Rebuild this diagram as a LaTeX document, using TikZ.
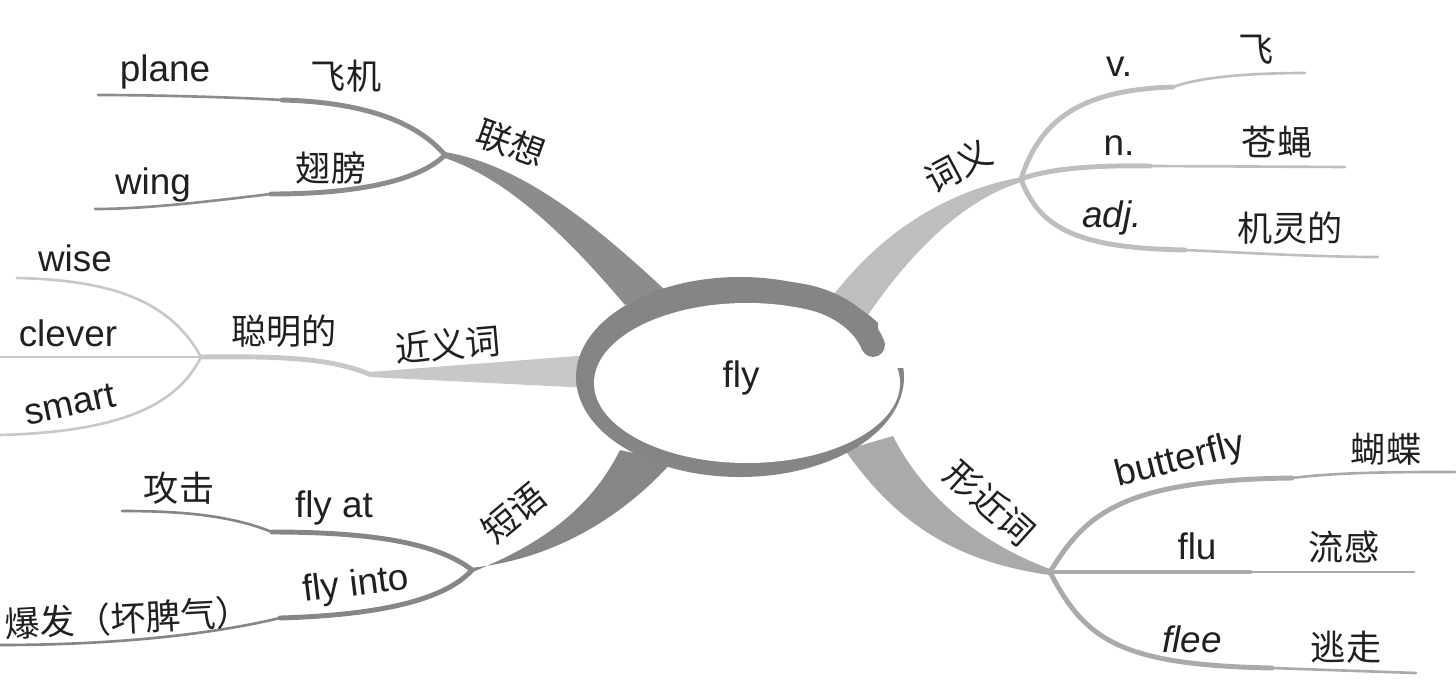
\documentclass[tikz,border=0pt]{standalone}
\usepackage{fontspec}
\setmainfont{Liberation Sans}
\newfontfamily\cjk{Noto Sans CJK SC}

\begin{document}
\begin{tikzpicture}[
    x=0.02cm, y=-0.02cm,
    line join=round,
    line cap=round,
    every node/.style={inner sep=0pt, text=ink},
    en/.style={font=\fontsize{21}{24}\selectfont},
    zh/.style={font=\cjk\fontsize{20}{24}\selectfont},
    trunk/.style={line width=2.8pt},
    twig/.style={line width=1.5pt}
]

% Colors
\definecolor{ink}{RGB}{35,31,32}
\definecolor{ringc}{RGB}{133,133,133}
\definecolor{assoc}{RGB}{140,140,140}
\definecolor{sense}{RGB}{190,190,190}
\definecolor{synon}{RGB}{200,200,200}
\definecolor{phrase}{RGB}{134,134,134}
\definecolor{alike}{RGB}{170,170,170}

\useasboundingbox (0,0) rectangle (1456,693);

% ----------------------------------------------------
% Hubs and branch ends
% ----------------------------------------------------
\coordinate (hubL) at (445,155);
\coordinate (hubR) at (1021,179);
\coordinate (hubS) at (201,357);
\coordinate (hubP) at (472,570);
\coordinate (hubX) at (1050,572);

% ----------------------------------------------------
% Main branches, drawn first behind the ring
% ----------------------------------------------------
\path[fill=assoc]
(445,152)
.. controls (520,165) and (590,220) .. (665,290)
-- (625,305)
.. controls (570,240) and (510,180) .. (445,158)
-- cycle;

\path[fill=sense]
(1022,177)
.. controls (950,190) and (880,230) .. (826,305)
-- (866,318)
.. controls (905,260) and (960,200) .. (1022,182)
-- cycle;

\path[fill=synon]
(369,372) -- (590,355) -- (590,388) -- (369,377) -- cycle;

\path[fill=phrase]
(470,573)
.. controls (540,545) and (590,510) .. (620,450)
-- (672,462)
.. controls (620,520) and (550,560) .. (470,568)
-- cycle;

\path[fill=alike]
(845,450)
.. controls (895,522) and (955,562) .. (1050,575)
-- (1050,569)
.. controls (985,545) and (925,500) .. (893,436)
-- cycle;

% ----------------------------------------------------
% Central ring
% ----------------------------------------------------
\fill[ringc] (740,377) ellipse[x radius=164, y radius=100];
\fill[white] (747,383) ellipse[x radius=153, y radius=80];
\fill[white] (878,318) rectangle (915,368);
\draw[ringc, line width=13.6pt] (790,294) .. controls (830,298) and (862,318) .. (873,345);

% ----------------------------------------------------
% Sub branches
% ----------------------------------------------------
% association
\coordinate (planeS) at (282,100);
\coordinate (planeE) at (98,95);
\coordinate (wingS) at (271,194);
\coordinate (wingE) at (95,209);
\draw[trunk, assoc] (hubL) .. controls (415,120) and (360,102) .. (planeS);
\draw[twig, assoc] (planeS) .. controls (230,97) and (150,95) .. (planeE);
\draw[trunk, assoc] (hubL) .. controls (420,180) and (360,194) .. (wingS);
\draw[twig, assoc] (wingS) .. controls (220,200) and (150,209) .. (wingE);

% senses
\coordinate (vS) at (1173,87);
\coordinate (vE) at (1305,73);
\coordinate (nS) at (1150,166);
\coordinate (nE) at (1345,167);
\coordinate (adjS) at (1185,250);
\coordinate (adjE) at (1378,257);
\draw[trunk, sense] (hubR) .. controls (1040,120) and (1080,90) .. (vS);
\draw[twig, sense] (vS) .. controls (1200,77) and (1250,73) .. (vE);
\draw[trunk, sense] (hubR) .. controls (1050,168) and (1100,165) .. (nS);
\draw[twig, sense] (nS) -- (nE);
\draw[trunk, sense] (hubR) .. controls (1040,230) and (1080,248) .. (adjS);
\draw[twig, sense] (adjS) .. controls (1250,253) and (1320,257) .. (adjE);

% synonyms
\coordinate (wiseE) at (17,278);
\coordinate (cleverE) at (0,357);
\coordinate (smartE) at (0,435);
\coordinate (synS) at (369,374);
\draw[trunk, synon] (hubS) .. controls (280,356) and (330,358) .. (synS);
\draw[twig, synon] (hubS) .. controls (170,300) and (110,280) .. (wiseE);
\draw[twig, synon] (hubS) -- (cleverE);
\draw[twig, synon] (hubS) .. controls (175,410) and (110,432) .. (smartE);

% phrases
\coordinate (atS) at (272,532);
\coordinate (atE) at (122,511);
\coordinate (intoS) at (280,618);
\coordinate (intoE) at (0,645);
\draw[trunk, phrase] (hubP) .. controls (440,545) and (380,532) .. (atS);
\draw[twig, phrase] (atS) .. controls (230,515) and (180,511) .. (atE);
\draw[trunk, phrase] (hubP) .. controls (445,600) and (380,615) .. (intoS);
\draw[twig, phrase] (intoS) .. controls (200,637) and (100,645) .. (intoE);

% look-alikes
\coordinate (bfS) at (1292,478);
\coordinate (bfE) at (1455,472);
\coordinate (fluS) at (1250,572);
\coordinate (fluE) at (1414,572);
\coordinate (fleeS) at (1272,668);
\coordinate (fleeE) at (1416,673);
\draw[trunk, alike] (hubX) .. controls (1085,515) and (1120,480) .. (bfS);
\draw[twig, alike] (bfS) .. controls (1340,472) and (1400,472) .. (bfE);
\draw[trunk, alike] (hubX) -- (fluS);
\draw[twig, alike] (fluS) -- (fluE);
\draw[trunk, alike] (hubX) .. controls (1085,640) and (1120,665) .. (fleeS);
\draw[twig, alike] (fleeS) -- (fleeE);

% ----------------------------------------------------
% Labels
% ----------------------------------------------------
\node[en] (fly) at (741,378) {fly};

\node[zh, rotate=-20] (assocL) at (511,143) {联想};
\node[en] (plane) at (165,72) {plane};
\node[zh] (planeZ) at (346,76) {飞机};
\node[en] (wing) at (153,185) {wing};
\node[zh] (wingZ) at (331,168) {翅膀};

\node[zh, rotate=28] (senseL) at (958,166) {词义};
\node[en] (v) at (1119,67) {v.};
\node[zh] (vZ) at (1256,50) {飞};
\node[en] (n) at (1119,146) {n.};
\node[zh] (nZ) at (1277,142) {苍蝇};
\node[en, font=\fontsize{21}{24}\selectfont\itshape] (adj) at (1112,218) {adj.};
\node[zh] (adjZ) at (1290,228) {机灵的};

\node[zh, rotate=5] (synL) at (448,345) {近义词};
\node[zh] (synZ) at (284,331) {聪明的};
\node[en] (wise) at (75,258) {wise};
\node[en] (clever) at (68,333) {clever};
\node[en, rotate=12] (smart) at (70,404) {smart};

\node[zh, rotate=40] (phraseL) at (514,513) {短语};
\node[en] (flyat) at (334,508) {fly at};
\node[zh] (flyatZ) at (179,488) {攻击};
\node[en, rotate=7] (flyinto) at (356,586) {fly into};
\node[zh, rotate=3] (flyintoZ) at (128,618) {爆发（坏脾气）};

\node[zh, rotate=-42] (alikeL) at (990,503) {形近词};
\node[en, rotate=14] (bf) at (1180,461) {butterfly};
\node[zh] (bfZ) at (1386,449) {蝴蝶};
\node[en] (flu) at (1197,546) {flu};
\node[zh] (fluZ) at (1344,547) {流感};
\node[en, font=\fontsize{21}{24}\selectfont\itshape] (flee) at (1192,639) {flee};
\node[zh] (fleeZ) at (1346,647) {逃走};

\end{tikzpicture}
\end{document}
